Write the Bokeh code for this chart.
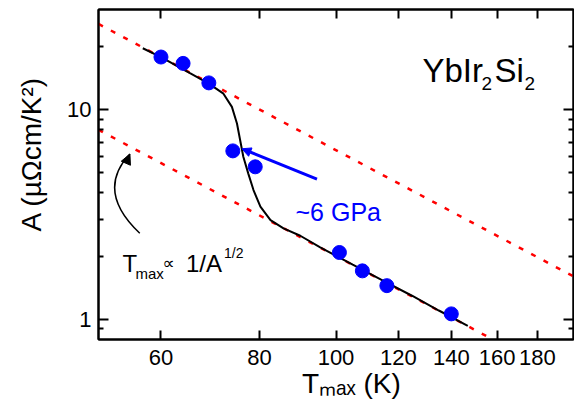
from bokeh.plotting import figure
from bokeh.models import (Range1d, LogAxis, FixedTicker, Label, Arrow, NormalHead,
                          BasicTickFormatter, CustomJSTickFormatter)
from bokeh.embed import file_html
from bokeh.resources import INLINE

# ---------------- data ----------------
T_points = [60, 64, 69, 74, 79, 101, 108, 116, 140]
A_points = [17.8, 16.6, 13.4, 6.35, 5.33, 2.08, 1.70, 1.445, 1.06]

curve_T = [56.9, 60, 65.3, 69, 72.0, 73.8, 74.9, 75.6, 76.3, 77.4, 78.6, 80.2,
           82.6, 85.8, 90.1, 95.5, 105, 115, 125, 135, 146.9]
curve_A = [19.6, 17.8, 14.9, 13.3, 11.9, 10.3, 8.58, 7.14, 5.95, 4.96, 4.13, 3.44,
           2.97, 2.71, 2.50, 2.20, 1.82, 1.52, 1.29, 1.10, 0.93]

upper_T = [50, 200]
upper_A = [25.6, 1.6]
lower_T = [50, 200]
lower_A = [8.0, 0.5]

x_ticks = [60, 80, 100, 120, 140, 160, 180]
y_ticks = [1, 10]
y_minor = [0.9, 2, 3, 4, 5, 6, 7, 8, 9, 20]

x_title = "T\u2098\u2090\u2093 (K)"
y_title = "A (\u00b5\u03a9cm/K\u00b2)"
x_title_at = 104.6   # where the x title is centred (data units)
y_title_at = 6.14    # where the y title is centred (data units)

# pressure arrow (start -> end), data units
press_T = [94.6, 76.0]
press_A = [4.66, 6.5]
# curved arrow: start, control, end (data units)
curl_T = [56.4, 49.5, 54.8]
curl_A = [2.57, 4.08, 6.13]
curl_head_T = [54.5, 54.8]
curl_head_A = [5.85, 6.13]

FONT = "Liberation Sans"
L, B = 98, 339  # frame left / bottom in canvas pixels

p = figure(width=574, height=407, x_axis_type="log", y_axis_type="log",
           x_range=Range1d(50, 200), y_range=Range1d(0.8, 30),
           output_backend="svg", toolbar_location=None,
           min_border_left=98, min_border_right=1, min_border_top=9, min_border_bottom=68)
p.grid.visible = False
p.outline_line_color = "black"
p.outline_line_width = 2
p.background_fill_color = "white"
p.border_fill_color = "white"


def style_axis(ax, ticks, minor, tick_len, labels=True, standoff=7):
    ax.ticker = FixedTicker(ticks=ticks, minor_ticks=minor)
    ax.axis_line_width = 2
    ax.axis_line_color = "black"
    ax.major_tick_in = tick_len
    ax.major_tick_out = 0
    ax.minor_tick_in = 5
    ax.minor_tick_out = 0
    ax.major_tick_line_width = 2
    ax.minor_tick_line_width = 2
    ax.major_tick_line_color = "black"
    ax.minor_tick_line_color = "black"
    if labels:
        ax.formatter = BasicTickFormatter()
        ax.major_label_text_font = FONT
        ax.major_label_text_font_size = "22px"
        ax.major_label_text_color = "black"
        ax.major_label_standoff = standoff
    else:
        ax.formatter = CustomJSTickFormatter(code="return ''")
        ax.major_label_text_font_size = "1px"
        ax.major_label_standoff = 0


style_axis(p.xaxis[0], x_ticks, [], 9, standoff=10)
style_axis(p.yaxis[0], y_ticks, y_minor, 10, standoff=7)
top_ax = LogAxis()
style_axis(top_ax, x_ticks, [], 9, labels=False)
p.add_layout(top_ax, "above")
right_ax = LogAxis()
style_axis(right_ax, y_ticks, y_minor, 10, labels=False)
p.add_layout(right_ax, "right")


def title_axis(text, at, standoff, orientation="horizontal"):
    ax = LogAxis(ticker=FixedTicker(ticks=[at], minor_ticks=[]),
                 formatter=CustomJSTickFormatter(code="return %r" % text))
    ax.axis_line_color = None
    ax.major_tick_line_color = None
    ax.minor_tick_line_color = None
    ax.major_tick_in = 0
    ax.major_tick_out = 0
    ax.minor_tick_in = 0
    ax.minor_tick_out = 0
    ax.major_label_text_font = FONT
    ax.major_label_text_font_size = "28px"
    ax.major_label_text_color = "black"
    ax.major_label_standoff = standoff
    ax.major_label_orientation = orientation
    return ax


p.add_layout(title_axis(x_title, x_title_at, 0), "below")
p.add_layout(title_axis(y_title, y_title_at, 17, "vertical"), "left")

# guide lines A ~ 1/T^2
p.line(upper_T, upper_A, line_color="red", line_width=2.5, line_dash="5 9")
p.line(lower_T, lower_A, line_color="red", line_width=2.5, line_dash="5 9")
# black guide curve
p.line(curve_T, curve_A, line_color="black", line_width=2)
# data points
p.scatter(T_points, A_points, size=14, color="#0000ff")

# pressure arrow
p.add_layout(Arrow(x_start=press_T[0], y_start=press_A[0], x_end=press_T[1], y_end=press_A[1],
                   line_color="#0000ff", line_width=3,
                   end=NormalHead(size=9, fill_color="#0000ff", line_color="#0000ff", line_width=1)))
# curved arrow
p.quadratic(x0=[curl_T[0]], y0=[curl_A[0]], cx=[curl_T[1]], cy=[curl_A[1]],
            x1=[curl_T[2]], y1=[curl_A[2]], line_color="black", line_width=1.5)
p.add_layout(Arrow(x_start=curl_head_T[0], y_start=curl_head_A[0], x_end=curl_head_T[1], y_end=curl_head_A[1],
                   line_color="black", line_width=1.5,
                   end=NormalHead(size=10, fill_color="black", line_color="black", line_width=1)))


def txt(s, cx, cy, size, color="black", angle=0.0, font=FONT):
    p.add_layout(Label(x=cx - L, y=B - cy, x_units="screen", y_units="screen", text=s,
                       text_font=font, text_font_size=f"{size}px", text_color=color,
                       text_align="left", text_baseline="alphabetic", angle=angle))


# compound name
txt("YbIr", 422, 70, 33)
txt("2", 481, 83.3, 19)
txt("Si", 494, 70, 33)
txt("2", 524, 83.3, 19)
# pressure label
txt("~6 GPa", 295, 211.5, 25, color="#0000ff")
# scaling annotation
txt("T", 122, 263.3, 24)
txt("max", 135, 273.3, 15)
txt("\u221d", 162, 262, 17, font="DejaVu Sans")
txt("1/A", 185.5, 263.3, 24)
txt("1/2", 223.5, 252.7, 14)

open("out.html", "w").write(file_html(p, INLINE))
